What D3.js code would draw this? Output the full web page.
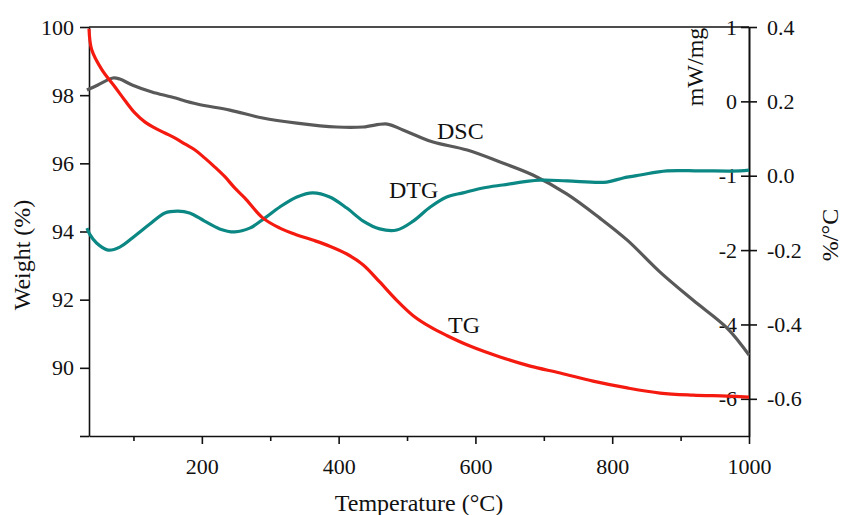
<!DOCTYPE html>
<meta charset='utf-8'>
<title>TG / DTG / DSC</title>
<style>
html, body { margin: 0; padding: 0; background: #fff; }
svg text { font-family: 'Liberation Serif', 'Times New Roman', serif; fill: #111; }
</style>
<script src='https://d3js.org/d3.v7.min.js'></script>
<body>
<svg id='chart' width='843' height='515'></svg>
<script>
// TG: weight (%) vs temperature
var tgT = [35, 39, 54, 73, 87, 102, 117, 131, 146, 161, 175, 190, 204, 219, 234, 248, 263, 289, 314, 339, 362, 387, 412, 436, 460, 485, 509, 534, 558, 592, 636, 680, 724, 772, 822, 870, 918, 968, 1000];
var tgW = [99.95, 99.33, 98.74, 98.24, 97.86, 97.48, 97.21, 97.04, 96.89, 96.74, 96.57, 96.39, 96.16, 95.89, 95.60, 95.28, 94.98, 94.40, 94.10, 93.90, 93.75, 93.57, 93.34, 93.02, 92.52, 91.98, 91.53, 91.20, 90.95, 90.64, 90.32, 90.05, 89.85, 89.61, 89.41, 89.26, 89.20, 89.17, 89.14];

// DTG: %/°C
var dtgT = [32, 36, 46, 63, 80, 102, 124, 146, 165, 182, 204, 226, 248, 270, 292, 314, 339, 362, 387, 412, 436, 460, 485, 509, 534, 558, 582, 611, 640, 694, 734, 792, 816, 841, 880, 928, 987, 1000];
var dtgD = [-0.141, -0.157, -0.181, -0.200, -0.192, -0.162, -0.130, -0.100, -0.095, -0.100, -0.122, -0.143, -0.151, -0.141, -0.114, -0.084, -0.057, -0.046, -0.057, -0.087, -0.122, -0.143, -0.146, -0.122, -0.084, -0.057, -0.046, -0.033, -0.025, -0.012, -0.014, -0.017, -0.006, 0.002, 0.013, 0.013, 0.013, 0.015];

// DSC: mW/mg
var dscT = [32, 48, 70, 80, 98, 127, 156, 193, 241, 289, 339, 397, 436, 471, 494, 515, 538, 588, 636, 684, 734, 782, 822, 870, 918, 968, 1000];
var dscS = [0.152, 0.220, 0.314, 0.300, 0.220, 0.126, 0.058, -0.036, -0.117, -0.224, -0.292, -0.345, -0.345, -0.305, -0.386, -0.466, -0.547, -0.655, -0.816, -0.991, -1.247, -1.570, -1.866, -2.592, -3.344, -4.097, -4.823];

var xMajor = [200, 400, 600, 800, 1000];
var xMinor = [100, 300, 500, 700, 900];
var wTicks = [100, 98, 96, 94, 92, 90, 88];
var dtgTicks = [0.4, 0.2, 0.0, -0.2, -0.4, -0.6];
var dscTicks = [1, 0, -1, -2, -4, -6];

var pLeft = 89, pRight = 749, pTop = 27, pBottom = 436;

var svg = d3.select('#chart');

var x = d3.scaleLinear().domain([35, 1000]).range([pLeft, pRight]);
var yW = d3.scaleLinear().domain([88, 100]).range([pBottom, pTop]);
var yD = d3.scaleLinear().domain([-0.7, 0.4]).range([pBottom, pTop]);
// DSC axis is broken: 1..-2 on one step, -2..-7 on a compressed step
var yS = d3.scaleLinear().domain([1, -2, -7]).range([pTop, yD(-0.2), pBottom]);

// plain hyphen for negatives, like the original plot
function hy(fmt) {
  var f = d3.format(fmt);
  return function (d) { return f(d).replace('\u2212', '-'); };
}

function styleAxis(g) {
  g.selectAll('path, line').attr('stroke', '#111').attr('stroke-width', 1.6);
  g.selectAll('text').style('font-size', '22px').attr('fill', '#111');
}

// top border
svg.append('line')
  .attr('x1', pLeft).attr('x2', pRight).attr('y1', pTop).attr('y2', pTop)
  .attr('stroke', '#111').attr('stroke-width', 1.6);

// bottom axis (major + minor)
svg.append('g')
  .attr('transform', 'translate(0,' + pBottom + ')')
  .call(d3.axisBottom(x).tickValues(xMinor).tickSize(5).tickFormat(''))
  .call(styleAxis)
  .call(function (g) { g.select('.domain').remove(); });

svg.append('g')
  .attr('transform', 'translate(0,' + pBottom + ')')
  .call(d3.axisBottom(x).tickValues(xMajor).tickSizeInner(8).tickSizeOuter(0).tickPadding(14).tickFormat(d3.format('d')))
  .call(styleAxis);

// left axis
svg.append('g')
  .attr('transform', 'translate(' + pLeft + ',0)')
  .call(d3.axisLeft(yW).tickValues(wTicks).tickSizeInner(9).tickSizeOuter(0).tickPadding(6)
    .tickFormat(function (d) { return d === 88 ? '' : d; }))
  .call(styleAxis);

// right axes: DSC labels inside, DTG labels outside, ticks cross
svg.append('g')
  .attr('transform', 'translate(' + pRight + ',0)')
  .call(d3.axisLeft(yS).tickValues(dscTicks).tickSizeInner(8).tickSizeOuter(0).tickPadding(4).tickFormat(hy('d')))
  .call(styleAxis);

svg.append('g')
  .attr('transform', 'translate(' + pRight + ',0)')
  .call(d3.axisRight(yD).tickValues(dtgTicks).tickSizeInner(8).tickSizeOuter(0).tickPadding(10).tickFormat(hy('.1f')))
  .call(styleAxis);

// curves
function drawCurve(xs, ys, yScale, color) {
  var pts = xs.map(function (t, i) { return [t, ys[i]]; });
  var line = d3.line()
    .x(function (d) { return x(d[0]); })
    .y(function (d) { return yScale(d[1]); })
    .curve(d3.curveCatmullRom.alpha(0.5));
  svg.append('path')
    .datum(pts)
    .attr('d', line)
    .attr('fill', 'none')
    .attr('stroke', color)
    .attr('stroke-width', 3.2)
    .attr('stroke-linejoin', 'round');
}

drawCurve(dscT, dscS, yS, '#595959');
drawCurve(dtgT, dtgD, yD, '#0b8784');
drawCurve(tgT, tgW, yW, '#f51a10');

// curve labels
var labels = [
  { text: 'DSC', x: 437, y: 139 },
  { text: 'DTG', x: 389, y: 198 },
  { text: 'TG', x: 448, y: 333 }
];
svg.selectAll('.clabel')
  .data(labels)
  .enter().append('text')
  .attr('class', 'clabel')
  .attr('x', function (d) { return d.x; })
  .attr('y', function (d) { return d.y; })
  .style('font-size', '24px')
  .text(function (d) { return d.text; });

// axis titles
svg.append('text')
  .attr('transform', 'translate(419,511)')
  .attr('text-anchor', 'middle')
  .style('font-size', '24px')
  .text('Temperature (°C)');

svg.append('text')
  .attr('transform', 'translate(30,255)rotate(-90)')
  .attr('text-anchor', 'middle')
  .style('font-size', '24px')
  .text('Weight (%)');

svg.append('text')
  .attr('transform', 'translate(703,67)rotate(-90)')
  .attr('text-anchor', 'middle')
  .style('font-size', '24px')
  .text('mW/mg');

svg.append('text')
  .attr('transform', 'translate(838,235)rotate(-90)')
  .attr('text-anchor', 'middle')
  .style('font-size', '24px')
  .text('%/°C');
</script>
</body>
